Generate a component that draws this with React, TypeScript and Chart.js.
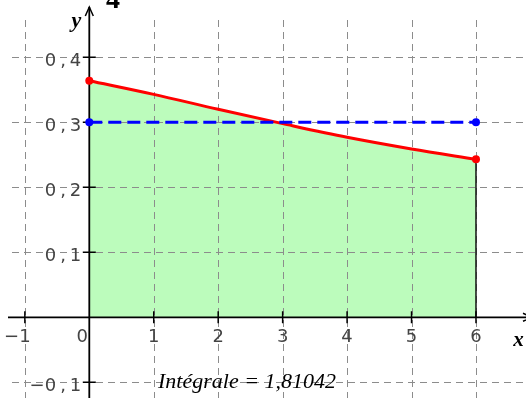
import React, { useEffect, useRef } from "react";
import { Chart, registerables } from "chart.js";

Chart.register(...registerables);

// ---- data ----
const curveX = [0, 1, 2, 3, 4, 5, 6];
const curveY = [0.364, 0.343, 0.32, 0.298, 0.277, 0.259, 0.243];
const levelX = [0, 6];
const levelY = [0.3, 0.3];
const xTicks = [-1, 0, 1, 2, 3, 4, 5, 6];
const xTickLabels = ["−1", "0", "1", "2", "3", "4", "5", "6"];
const yTicks = [-0.1, 0.1, 0.2, 0.3, 0.4];
const yTickLabels = ["−0,1", "0,1", "0,2", "0,3", "0,4"];
const integralText = "Intégrale = 1,81042";
const topText = "4";
const xAxisTitle = "x";
const yAxisTitle = "y";
const xRange = [-1.3856, 6.776];
const yRange = [-0.1242, 0.4882];

const LABEL_FONT = '18px "DejaVu Sans"';

function drawSpacedRight(ctx: CanvasRenderingContext2D, text: string, right: number, y: number, gap: number) {
  const chars = Array.from(text);
  let x = right;
  for (let i = chars.length - 1; i >= 0; i--) {
    const w = ctx.measureText(chars[i]).width;
    x -= w;
    ctx.textAlign = "left";
    ctx.fillText(chars[i], x, y);
    if (i > 0) x -= chars[i] === "," || chars[i - 1] === "," ? gap : 0;
  }
}

const axesPlugin = {
  id: "mathAxes",
  beforeDatasetsDraw(chart: any) {
    const { ctx, width, height } = chart;
    const xs = chart.scales.x;
    const ys = chart.scales.y;
    const px = (v: number) => xs.getPixelForValue(v);
    const py = (v: number) => ys.getPixelForValue(v);
    const X0 = px(0);
    const Y0 = py(0);
    ctx.save();
    // grid
    ctx.strokeStyle = "#8c8c8c";
    ctx.lineWidth = 1;
    ctx.setLineDash([7, 5]);
    xTicks.forEach((t) => {
      if (t === 0) return;
      const X = Math.round(px(t)) + 0.5;
      ctx.beginPath();
      ctx.moveTo(X, 20);
      ctx.lineTo(X, height);
      ctx.stroke();
    });
    yTicks.forEach((t) => {
      const Y = Math.round(py(t)) + 0.5;
      ctx.beginPath();
      ctx.moveTo(12, Y);
      ctx.lineTo(width, Y);
      ctx.stroke();
    });
    ctx.setLineDash([]);
    // right edge of integral region
    ctx.strokeStyle = "#111";
    ctx.lineWidth = 1.5;
    const xe = px(curveX[curveX.length - 1]);
    ctx.beginPath();
    ctx.moveTo(xe, Y0);
    ctx.lineTo(xe, py(curveY[curveY.length - 1]));
    ctx.stroke();
    // axes
    ctx.strokeStyle = "#000";
    ctx.lineWidth = 1.8;
    ctx.beginPath();
    ctx.moveTo(8, Y0);
    ctx.lineTo(width + 4, Y0);
    ctx.moveTo(X0, height);
    ctx.lineTo(X0, 7);
    ctx.stroke();
    // arrows
    ctx.lineWidth = 1.5;
    ctx.beginPath();
    ctx.moveTo(X0 - 4, 16);
    ctx.lineTo(X0, 7);
    ctx.lineTo(X0 + 4, 16);
    ctx.moveTo(width - 3, Y0 - 4);
    ctx.lineTo(width + 6, Y0);
    ctx.lineTo(width - 3, Y0 + 4);
    ctx.stroke();
    // ticks
    ctx.lineWidth = 1.5;
    ctx.beginPath();
    xTicks.forEach((t) => {
      if (t === 0) return;
      const X = px(t);
      ctx.moveTo(X, Y0 - 6);
      ctx.lineTo(X, Y0 + 6);
    });
    yTicks.forEach((t) => {
      const Y = py(t);
      ctx.moveTo(X0 - 6.5, Y);
      ctx.lineTo(X0 + 6.5, Y);
    });
    ctx.stroke();
    ctx.restore();
  },
  afterDraw(chart: any) {
    const { ctx } = chart;
    const xs = chart.scales.x;
    const ys = chart.scales.y;
    const px = (v: number) => xs.getPixelForValue(v);
    const py = (v: number) => ys.getPixelForValue(v);
    const X0 = px(0);
    const Y0 = py(0);
    ctx.save();
    ctx.fillStyle = "#444";
    ctx.font = LABEL_FONT;
    ctx.textBaseline = "alphabetic";
    xTicks.forEach((t, i) => {
      const lbl = xTickLabels[i];
      const X = px(t);
      if (t === 0) {
        ctx.textAlign = "center";
        ctx.fillText(lbl, X - 7, Y0 + 24.5);
      } else if (lbl.startsWith("−")) {
        const w = ctx.measureText(lbl.slice(1)).width;
        ctx.textAlign = "right";
        ctx.fillText(lbl, X + w / 2, Y0 + 24.5);
      } else {
        ctx.textAlign = "center";
        ctx.fillText(lbl, X, Y0 + 24.5);
      }
    });
    yTicks.forEach((t, i) => {
      drawSpacedRight(ctx, yTickLabels[i], X0 - 8, py(t) + 8.5, 4);
    });
    // axis titles
    ctx.fillStyle = "#000";
    ctx.textAlign = "center";
    ctx.font = 'italic bold 22px "Liberation Serif"';
    ctx.fillText(yAxisTitle, X0 - 13, 27);
    ctx.font = 'italic bold 21px "Liberation Serif"';
    ctx.fillText(xAxisTitle, 518.5, Y0 + 28.5);
    ctx.font = 'bold 28px "Liberation Serif"';
    ctx.fillText(topText, 113, 7.5);
    // integral
    ctx.font = 'italic 22px "Liberation Serif"';
    ctx.fillText(integralText, 247, 388);
    ctx.restore();
  },
};

export default function App() {
  const ref = useRef<HTMLCanvasElement | null>(null);
  useEffect(() => {
    document.body.style.margin = "0";
    const canvas = ref.current!;
    const chart = new Chart(canvas, {
      type: "line",
      data: {
        datasets: [
          {
            data: curveX.map((x, i) => ({ x, y: curveY[i] })),
            borderColor: "#ff0000",
            borderWidth: 3,
            backgroundColor: "rgb(188,252,188)",
            fill: "origin",
            cubicInterpolationMode: "monotone",
            pointRadius: curveX.map((_, i) => (i === 0 || i === curveX.length - 1 ? 4 : 0)),
            pointBackgroundColor: "#ff0000",
            pointBorderWidth: 0,
            order: 2,
          },
          {
            data: levelX.map((x, i) => ({ x, y: levelY[i] })),
            borderColor: "#0000ff",
            borderWidth: 3,
            borderDash: [13, 6],
            fill: false,
            pointRadius: 4,
            pointBackgroundColor: "#0000ff",
            pointBorderWidth: 0,
            order: 1,
          },
        ],
      },
      options: {
        responsive: false,
        animation: false,
        events: [],
        layout: { padding: 0, autoPadding: false },
        scales: {
          x: { type: "linear", min: xRange[0], max: xRange[1], display: false },
          y: { type: "linear", min: yRange[0], max: yRange[1], display: false },
        },
        plugins: {
          legend: { display: false },
          tooltip: { enabled: false },
          filler: { drawTime: "beforeDatasetsDraw" },
        },
      } as any,
      plugins: [axesPlugin],
    });
    return () => chart.destroy();
  }, []);
  return (
    <div style={{ width: 526, height: 398 }}>
      <canvas ref={ref} width={526} height={398} style={{ display: "block" }} />
    </div>
  );
}
